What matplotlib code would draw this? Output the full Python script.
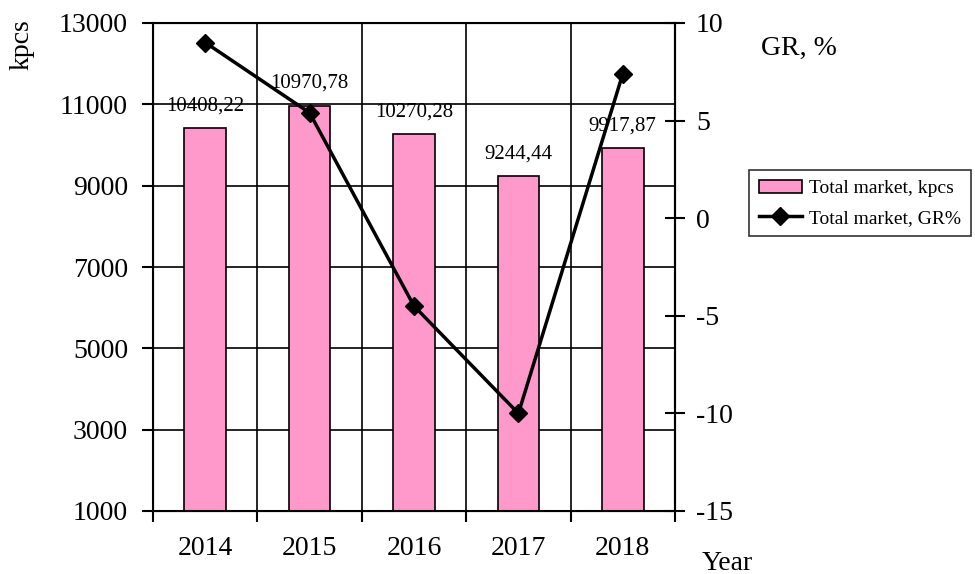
import matplotlib.pyplot as plt
import numpy as np

# market volume and growth rate by year
years = ['2014', '2015', '2016', '2017', '2018']
market_kpcs = [10408.22, 10970.78, 10270.28, 9244.44, 9917.87]
market_labels = ['10408,22', '10970,78', '10270,28', '9244,44', '9917,87']
growth_pct = [9.0, 5.4, -4.5, -10.0, 7.4]

plt.rcParams['font.family'] = ['Liberation Serif', 'DejaVu Serif']
plt.rcParams['axes.unicode_minus'] = False

fig = plt.figure(figsize=(9.75, 5.74), dpi=100)
ax = fig.add_axes([153/975, 1 - 511/574, (675-153)/975, (511-23)/574])
x = np.arange(len(years))

# grid first so bars sit on top
for b in np.arange(-0.5, len(years), 1.0):
    ax.axvline(b, color='black', lw=1.2, zorder=0)
for h in range(3000, 13000, 2000):
    ax.axhline(h, color='black', lw=1.2, zorder=0)

bars = ax.bar(x, market_kpcs, width=0.4, color='#FF99CC', edgecolor='black',
              lw=1.2, zorder=2, label='Total market, kpcs')
for xi, v, lab in zip(x, market_kpcs, market_labels):
    ax.annotate(lab, (xi, v), xytext=(0, 9), textcoords='offset points',
                ha='center', va='bottom', fontsize=15, zorder=5)

ax.set_xlim(-0.5, len(years) - 0.5)
ax.set_ylim(1000, 13000)
ax.set_yticks(range(1000, 13001, 2000))
ax.set_xticks(np.arange(-0.5, len(years), 1.0))
ax.set_xticklabels([])
ax.set_xticks(x, minor=True)
ax.set_xticklabels(years, minor=True)
ax.tick_params(axis='x', which='minor', length=0, labelsize=20, pad=18)
ax.tick_params(axis='x', which='major', length=8, width=1.5, direction='out')
ax.tick_params(axis='y', length=8, width=1.5, direction='out', labelsize=20, pad=10)
for s in ax.spines.values():
    s.set_linewidth(1.5)

ax2 = ax.twinx()
ax2.plot(x, growth_pct, color='black', lw=2.5, marker='D', ms=9,
         zorder=4, label='Total market, GR%')
ax2.set_ylim(-15, 10)
ax2.set_yticks(range(-15, 11, 5))
ax2.tick_params(axis='y', length=14, width=1.5, direction='inout', labelsize=20, pad=8)
ax2.spines['right'].set_linewidth(1.5)
ax2.set_zorder(ax.get_zorder() + 1)
ax2.patch.set_visible(False)

fig.text(22/975, 1 - 45/574, 'kpcs', rotation=90, ha='center', va='center', fontsize=20)
fig.text(799/975, 1 - 48/574, 'GR, %', ha='center', va='center', fontsize=20)
fig.text(727/975, 1 - 563/574, 'Year', ha='center', va='center', fontsize=20)

leg = fig.legend(handles=[bars, ax2.lines[0]], loc='upper left',
                 bbox_to_anchor=(749/975, 1 - 170/574), fontsize=14,
                 frameon=True, fancybox=False, edgecolor='black',
                 handlelength=2.2, handletextpad=0.4, borderpad=0.5,
                 labelspacing=0.6, borderaxespad=0)
leg.get_frame().set_linewidth(1.2)

fig.savefig('out.png', dpi=100)
